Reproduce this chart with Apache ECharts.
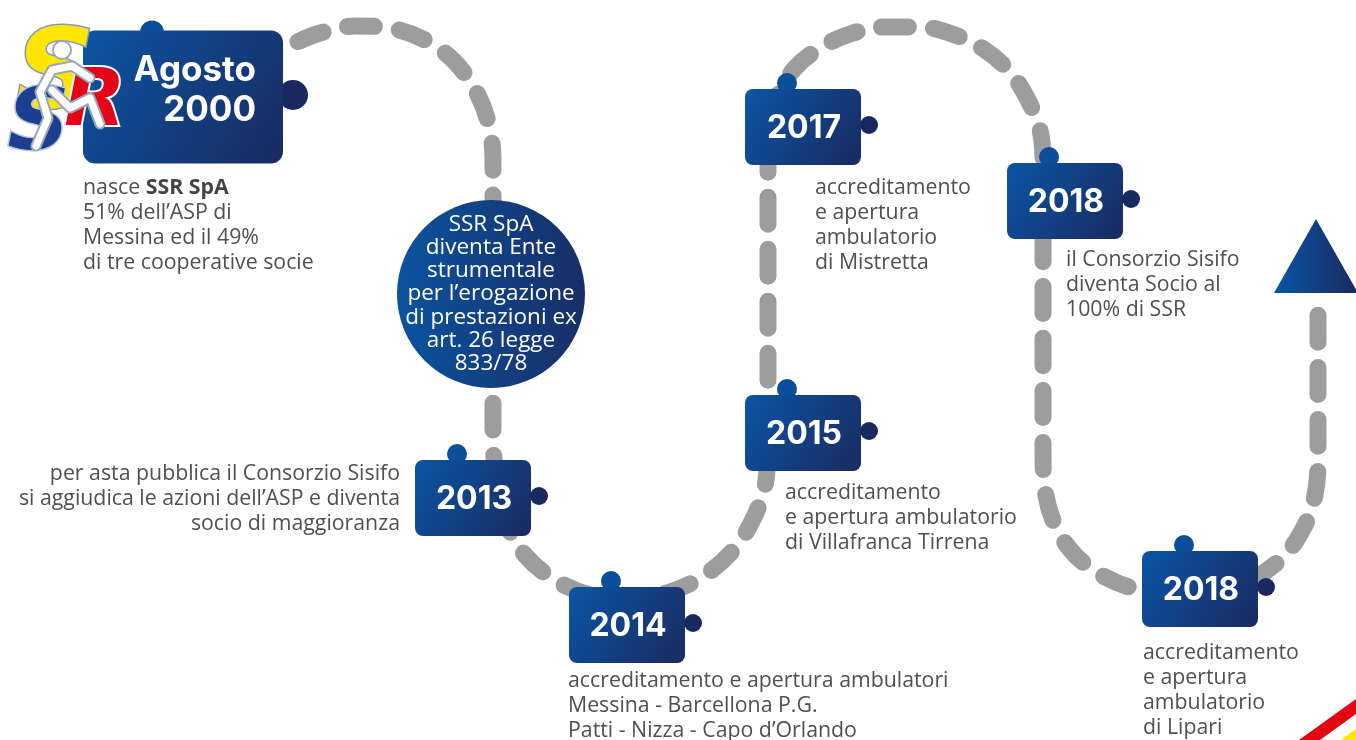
<!DOCTYPE html>
<html>
<head>
<meta charset="utf-8">
<title>SSR timeline</title>
<script src="https://cdn.jsdelivr.net/npm/echarts@6/dist/echarts.min.js"></script>
<style>
  html, body { margin: 0; padding: 0; background: #fff; }
  #chart { width: 1356px; height: 740px; }
</style>
</head>
<body>
<div id="chart"></div>
<script>
// tappe del percorso (centri dei riquadri, in pixel del disegno)
const years = ["Agosto\n2000", "2013", "2014", "2015", "2017", "2018", "2018"];
const boxX = [183, 473, 627, 803, 803, 1065, 1200];
const boxY = [97, 498, 625, 433, 127, 201, 589];

// testi descrittivi
const notes = [
  "nasce {b|SSR SpA}\n51% dell’ASP di\nMessina ed il 49%\ndi tre cooperative socie",
  "per asta pubblica il Consorzio Sisifo\nsi aggiudica le azioni dell’ASP e diventa\nsocio di maggioranza",
  "accreditamento e apertura ambulatori\nMessina - Barcellona P.G.\nPatti - Nizza - Capo d’Orlando",
  "accreditamento\ne apertura ambulatorio\ndi Villafranca Tirrena",
  "accreditamento\ne apertura\nambulatorio\ndi Mistretta",
  "il Consorzio Sisifo\ndiventa Socio al\n100% di SSR",
  "accreditamento\ne apertura\nambulatorio\ndi Lipari"
];
const noteX = [83, 400, 568, 785, 815, 1066, 1143];
const noteY = [175, 461, 668, 480, 175, 247, 640];
const noteAlign = ["left", "right", "left", "left", "left", "left", "left"];

// cerchio "Ente strumentale"
const circleText = "SSR SpA\ndiventa Ente\nstrumentale\nper l’erogazione\ndi prestazioni ex\nart. 26 legge\n833/78";
const circlePoint = [491, 294];

// freccia finale
const arrowPoint = [1316, 256];

// tracciato tratteggiato
const pathPoints = [
  [250, 62], [290, 45], [320, 33], [355, 26], [390, 28], [425, 40], [455, 62],
  [478, 95], [490, 130], [493, 165], [493, 200], [493, 300], [493, 400], [493, 440],
  [497, 480], [505, 520], [525, 555], [555, 580], [590, 595], [630, 600], [670, 592],
  [705, 575], [735, 548], [755, 515], [766, 480], [768, 440], [768, 380], [768, 300],
  [768, 220], [768, 170], [770, 130], [778, 95], [795, 68], [820, 48], [850, 34],
  [885, 27], [920, 27], [955, 35], [985, 50], [1010, 72], [1028, 100], [1040, 130],
  [1043, 165], [1043, 250], [1043, 350], [1043, 450], [1045, 490], [1055, 525],
  [1075, 555], [1105, 577], [1140, 590], [1180, 595], [1220, 592], [1255, 578],
  [1285, 555], [1305, 525], [1315, 495], [1318, 460], [1318, 380], [1318, 305]
];

const LIGHT = "#0a4f9c";
const DARK = "#19295f";
const TEXT = "#505050";
const FONT = "'Open Sans', 'Noto Sans', sans-serif";

function boxGradient() {
  return new echarts.graphic.LinearGradient(0, 0, 1, 1, [
    { offset: 0, color: "#0b55a4" },
    { offset: 1, color: "#1a2a60" }
  ]);
}

function renderBox(params, api) {
  const i = params.dataIndex;
  const c = api.coord([api.value(0), api.value(1)]);
  const big = i === 0;
  const w = big ? 200 : 116;
  const h = big ? 133 : 76;
  const x = c[0] - w / 2;
  const y = c[1] - h / 2;
  return {
    type: "group",
    children: [
      {
        type: "circle",
        shape: { cx: x + (big ? 69 : 42), cy: y + (big ? 2 : -6), r: big ? 12 : 10 },
        style: { fill: LIGHT }
      },
      {
        type: "circle",
        shape: { cx: x + w + (big ? 10 : 8), cy: c[1] - 2, r: big ? 15 : 9 },
        style: { fill: DARK }
      },
      {
        type: "rect",
        shape: { x: x, y: y, width: w, height: h, r: big ? 12 : 8 },
        style: { fill: boxGradient() }
      },
      {
        type: "text",
        style: {
          text: years[i],
          // l'etichetta grande e' allineata a destra come nell'originale
          x: big ? c[0] + 73 : c[0] + 1,
          y: c[1] + (big ? -7 : 1),
          align: big ? "right" : "center",
          verticalAlign: "middle",
          fill: "#fff",
          font: big ? "700 35px Inter, sans-serif" : "700 32px Inter, sans-serif",
          lineHeight: 40
        }
      }
    ]
  };
}

function renderNote(params, api) {
  const i = params.dataIndex;
  const c = api.coord([api.value(0), api.value(1)]);
  return {
    type: "text",
    style: {
      text: notes[i],
      x: c[0],
      y: c[1],
      align: noteAlign[i],
      verticalAlign: "top",
      fill: TEXT,
      font: "400 21.3px " + FONT,
      lineHeight: 25,
      rich: {
        b: { fontWeight: 700, fontSize: 21.3, fontFamily: FONT, fill: "#444", lineHeight: 25 }
      }
    }
  };
}

const chart = echarts.init(document.getElementById("chart"));

chart.setOption({
  backgroundColor: "#fff",
  animation: false,
  grid: { left: 0, right: 0, top: 0, bottom: 0 },
  xAxis: { type: "value", min: 0, max: 1356, show: false },
  yAxis: { type: "value", min: 0, max: 740, inverse: true, show: false },
  graphic: [
    // logo SSR
    {
      type: "text", z: 100, left: 14, top: 22,
      style: { text: "S", font: "italic 900 110px 'DejaVu Sans'", fill: "#ffe600", stroke: "#8798bd", lineWidth: 3 }
    },
    {
      type: "text", z: 101, left: 6, top: 82,
      style: { text: "S", font: "italic 900 86px 'DejaVu Sans'", fill: "#1d3f8f", stroke: "#b9c5dd", lineWidth: 3 }
    },
    {
      type: "text", z: 102, left: 62, top: 62,
      style: { text: "R", font: "italic 900 80px 'DejaVu Sans'", fill: "#e3061b", stroke: "#ffffff", lineWidth: 4 }
    },
    // omino che corre
    {
      type: "polyline", z: 103,
      shape: { points: [[90, 78], [72, 66], [52, 70], [40, 92], [48, 118], [36, 146]] },
      style: { stroke: "#9aa6bd", lineWidth: 11, lineCap: "round", lineJoin: "round", fill: null }
    },
    {
      type: "polyline", z: 104,
      shape: { points: [[90, 78], [72, 66], [52, 70], [40, 92], [48, 118], [36, 146]] },
      style: { stroke: "#ffffff", lineWidth: 7, lineCap: "round", lineJoin: "round", fill: null }
    },
    {
      type: "polyline", z: 103,
      shape: { points: [[52, 90], [70, 108], [90, 98], [100, 124]] },
      style: { stroke: "#9aa6bd", lineWidth: 11, lineCap: "round", lineJoin: "round", fill: null }
    },
    {
      type: "polyline", z: 104,
      shape: { points: [[52, 90], [70, 108], [90, 98], [100, 124]] },
      style: { stroke: "#ffffff", lineWidth: 7, lineCap: "round", lineJoin: "round", fill: null }
    },
    {
      type: "circle", z: 104,
      shape: { cx: 62, cy: 50, r: 9 },
      style: { fill: "#ffffff", stroke: "#9aa6bd", lineWidth: 2 }
    },
    // angolo in basso a destra
    {
      type: "polygon", z: 100,
      shape: { points: [[1299, 740], [1356, 699], [1356, 714], [1320, 740]] },
      style: { fill: "#e30613" }
    },
    {
      type: "polygon", z: 100,
      shape: { points: [[1341, 740], [1356, 729], [1356, 740]] },
      style: { fill: "#ffe500" }
    }
  ],
  series: [
    {
      name: "percorso",
      type: "line",
      z: 1,
      data: pathPoints,
      smooth: 0.35,
      symbol: "none",
      lineStyle: { color: "#9d9d9d", width: 17, type: [27, 25], cap: "round" }
    },
    {
      name: "ente",
      type: "scatter",
      z: 3,
      data: [circlePoint],
      symbol: "circle",
      symbolSize: 188,
      itemStyle: {
        opacity: 1,
        color: new echarts.graphic.LinearGradient(0, 0, 1, 0, [
          { offset: 0, color: "#0b539f" },
          { offset: 1, color: "#182e68" }
        ])
      },
      label: {
        show: true,
        position: "inside",
        formatter: circleText,
        color: "#fff",
        fontFamily: FONT,
        fontSize: 22.5,
        lineHeight: 23.2
      }
    },
    {
      name: "freccia",
      type: "scatter",
      z: 3,
      data: [arrowPoint],
      symbol: "triangle",
      symbolSize: [84, 74],
      itemStyle: {
        opacity: 1,
        color: new echarts.graphic.LinearGradient(0, 0, 1, 0, [
          { offset: 0, color: "#0b55a4" },
          { offset: 1, color: "#1a2a60" }
        ])
      }
    },
    {
      name: "tappe",
      type: "custom",
      z: 4,
      data: boxX.map((x, i) => [x, boxY[i]]),
      renderItem: renderBox
    },
    {
      name: "note",
      type: "custom",
      z: 4,
      data: noteX.map((x, i) => [x, noteY[i]]),
      renderItem: renderNote
    }
  ]
});
</script>
</body>
</html>
